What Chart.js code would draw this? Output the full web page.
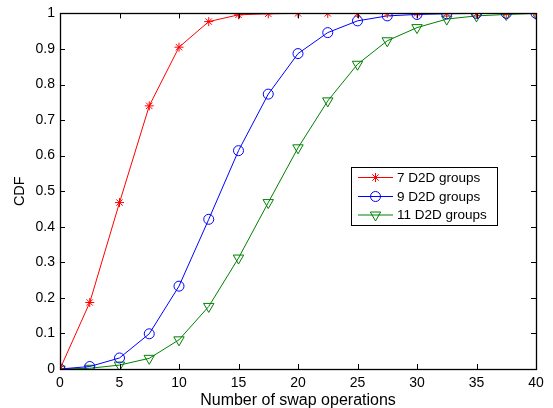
<!DOCTYPE html>
<html>
<head>
<meta charset="utf-8">
<script src="https://cdn.jsdelivr.net/npm/chart.js@4.4.1/dist/chart.umd.min.js"></script>
<style>
  html, body { margin: 0; padding: 0; background: #ffffff; }
  #wrap { width: 553px; height: 408px; position: relative; }
</style>
</head>
<body>
<div id="wrap"><canvas id="c" width="553" height="408"></canvas></div>
<script>
// ---- data ----
const xValues = [0, 2.5, 5, 7.5, 10, 12.5, 15, 17.5, 20, 22.5, 25, 27.5, 30, 32.5, 35, 37.5, 40];
const cdf7  = [0, 0.187, 0.468, 0.740, 0.905, 0.977, 0.996, 0.999, 1, 1, 1, 1, 1, 1, 1, 1, 1];
const cdf9  = [0, 0.007, 0.031, 0.099, 0.233, 0.421, 0.614, 0.773, 0.887, 0.946, 0.979, 0.993, 0.997, 0.999, 1, 1, 1];
const cdf11 = [0, 0.002, 0.011, 0.030, 0.082, 0.176, 0.312, 0.468, 0.622, 0.754, 0.857, 0.923, 0.960, 0.984, 0.993, 0.997, 1];
const seriesLabels = ['7 D2D groups', '9 D2D groups', '11 D2D groups'];
const xTicks = [0, 5, 10, 15, 20, 25, 30, 35, 40];
const yTicks = [0, 0.1, 0.2, 0.3, 0.4, 0.5, 0.6, 0.7, 0.8, 0.9, 1];
const xTitle = 'Number of swap operations';
const yTitle = 'CDF';

const FONT = '"Liberation Sans", Arial, Helvetica, sans-serif';

function toPoints(ys) { return xValues.map((x, i) => ({ x: x, y: ys[i] })); }

const styles = [
  { color: '#ff0000', pointStyle: 'star', radius: 4.5, rotation: 0 },
  { color: '#0000ff', pointStyle: 'circle', radius: 5, rotation: 0 },
  { color: '#008000', pointStyle: 'triangle', radius: 6, rotation: 180 }
];
const seriesData = [cdf7, cdf9, cdf11];

const datasets = seriesData.map((d, i) => ({
  label: seriesLabels[i],
  data: toPoints(d),
  borderColor: styles[i].color,
  backgroundColor: 'rgba(0,0,0,0)',
  borderWidth: 1,
  pointStyle: styles[i].pointStyle,
  pointRadius: styles[i].radius,
  pointRotation: styles[i].rotation,
  pointBorderColor: styles[i].color,
  pointBackgroundColor: 'rgba(0,0,0,0)',
  pointBorderWidth: 1,
  tension: 0,
  fill: false
}));

function drawMarker(ctx, style, x, y) {
  ctx.save();
  ctx.strokeStyle = style.color;
  ctx.lineWidth = 1;
  const r = style.radius;
  ctx.beginPath();
  if (style.pointStyle === 'circle') {
    ctx.arc(x, y, r, 0, Math.PI * 2);
  } else if (style.pointStyle === 'star') {
    for (let k = 0; k < 4; k++) {
      const a = k * Math.PI / 4;
      ctx.moveTo(x - r * Math.cos(a), y - r * Math.sin(a));
      ctx.lineTo(x + r * Math.cos(a), y + r * Math.sin(a));
    }
  } else if (style.pointStyle === 'triangle') {
    const rot = style.rotation * Math.PI / 180;
    for (let k = 0; k < 3; k++) {
      const a = rot + k * 2 * Math.PI / 3;
      const px = x + Math.sin(a) * r;
      const py = y - Math.cos(a) * r;
      if (k === 0) ctx.moveTo(px, py); else ctx.lineTo(px, py);
    }
    ctx.closePath();
  }
  ctx.stroke();
  ctx.restore();
}

const framePlugin = {
  id: 'frame',
  afterDraw(chart) {
    const ctx = chart.ctx;
    const a = chart.chartArea;
    const xs = chart.scales.x, ys = chart.scales.y;
    ctx.save();
    ctx.strokeStyle = '#000';
    ctx.lineWidth = 1;
    const tl = 5;
    ctx.beginPath();
    xTicks.forEach(v => {
      const px = Math.round(xs.getPixelForValue(v)) + 0.5;
      ctx.moveTo(px, a.bottom); ctx.lineTo(px, a.bottom - tl);
      ctx.moveTo(px, a.top); ctx.lineTo(px, a.top + tl);
    });
    yTicks.forEach(v => {
      const py = Math.round(ys.getPixelForValue(v)) + 0.5;
      ctx.moveTo(a.left, py); ctx.lineTo(a.left + tl, py);
      ctx.moveTo(a.right, py); ctx.lineTo(a.right - tl, py);
    });
    ctx.stroke();
    ctx.lineWidth = 1.3;
    ctx.strokeRect(Math.round(a.left) + 0.5, Math.round(a.top) + 0.5,
                   Math.round(a.right - a.left), Math.round(a.bottom - a.top));
    ctx.restore();

    // legend box inside plot area
    const bx = 351.5, by = 167.5, bw = 146, bh = 58;
    ctx.save();
    ctx.fillStyle = '#fff';
    ctx.fillRect(bx, by, bw, bh);
    ctx.strokeStyle = '#000';
    ctx.lineWidth = 1;
    ctx.strokeRect(bx, by, bw, bh);
    ctx.font = '13.5px ' + FONT;
    ctx.textBaseline = 'middle';
    ctx.textAlign = 'left';
    const rowY = [177, 196, 214.5];
    seriesLabels.forEach((lab, i) => {
      const y = rowY[i];
      ctx.strokeStyle = styles[i].color;
      ctx.lineWidth = 1;
      ctx.beginPath();
      ctx.moveTo(358, y + 0.5); ctx.lineTo(393, y + 0.5);
      ctx.stroke();
      drawMarker(ctx, styles[i], 375.5, y + 0.5);
      ctx.fillStyle = '#000';
      ctx.fillText(lab, 397, y + 1);
    });
    ctx.restore();
  }
};

new Chart(document.getElementById('c'), {
  type: 'line',
  data: { datasets: datasets },
  options: {
    responsive: false,
    animation: false,
    devicePixelRatio: 1,
    layout: { padding: { left: 0, top: 11, right: 17, bottom: 0 } },
    plugins: { legend: { display: false }, tooltip: { enabled: false } },
    scales: {
      x: {
        type: 'linear',
        min: 0, max: 40,
        afterBuildTicks: (s) => { s.ticks = xTicks.map(v => ({ value: v })); },
        afterFit: (s) => { s.height = 39; },
        ticks: { color: '#000', font: { family: FONT, size: 14 }, padding: 6, maxRotation: 0,
                 callback: (v) => String(v) },
        grid: { display: true, drawOnChartArea: false, drawTicks: false, color: 'rgba(0,0,0,0)' },
        border: { display: false },
        title: { display: true, text: xTitle, color: '#000', font: { family: FONT, size: 16, lineHeight: 0.9 },
                 padding: { top: 0, bottom: 0 } }
      },
      y: {
        type: 'linear',
        min: 0, max: 1,
        afterBuildTicks: (s) => { s.ticks = yTicks.map(v => ({ value: v })); },
        afterFit: (s) => { s.width = 60; },
        ticks: { color: '#000', font: { family: FONT, size: 14 }, padding: 5,
                 callback: (v) => String(Number(v.toFixed(1))) },
        grid: { display: true, drawOnChartArea: false, drawTicks: false, color: 'rgba(0,0,0,0)' },
        border: { display: false },
        title: { display: true, text: yTitle, color: '#000', font: { family: FONT, size: 14.5 },
                 padding: { top: 11, bottom: 0 } }
      }
    }
  },
  plugins: [framePlugin]
});
</script>
</body>
</html>
